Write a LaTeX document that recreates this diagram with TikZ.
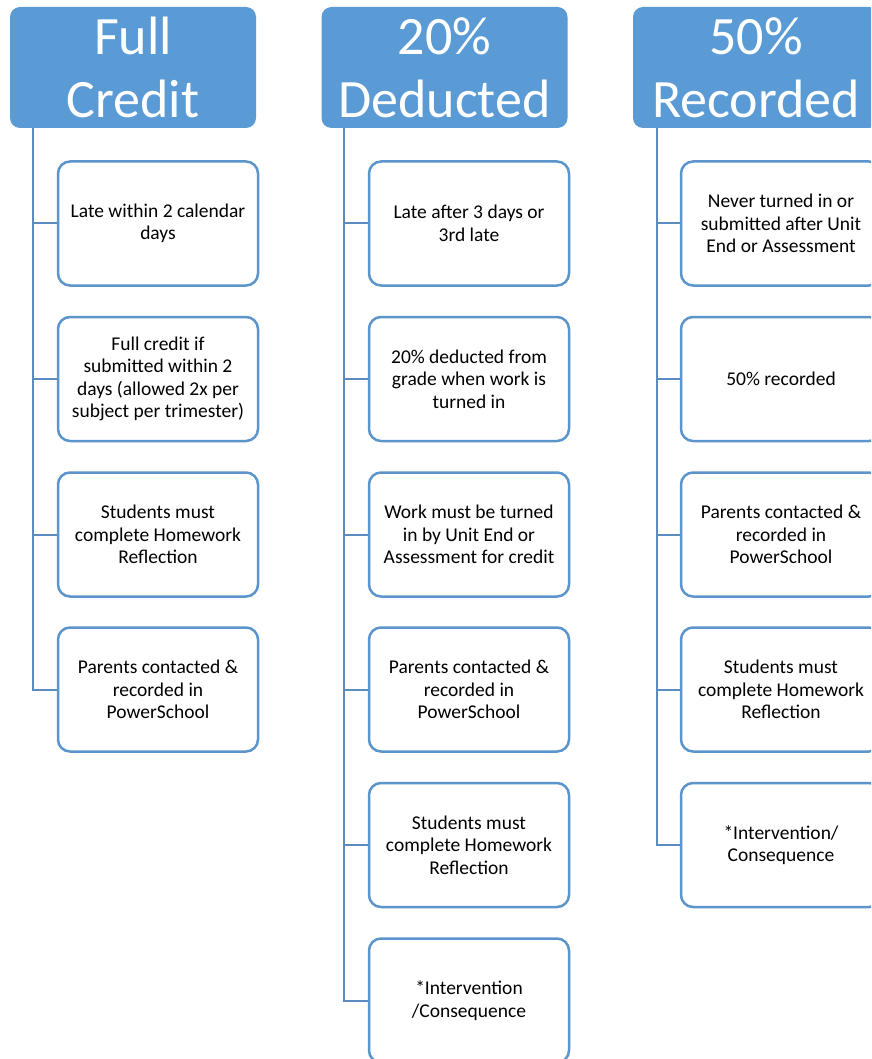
\documentclass[tikz,border=0pt]{standalone}
\usepackage{fontspec}
\setmainfont{Carlito}
\definecolor{hdrblue}{HTML}{5B9BD5}
\definecolor{boxblue}{HTML}{5B95CC}
\definecolor{linblue}{HTML}{5A8CC0}
\tikzset{
  hdr/.style={draw=none, fill=hdrblue, rounded corners=10pt, minimum width=246pt, minimum height=121pt,
    text=white, align=center, inner sep=0pt, font=\fontsize{54}{63}\selectfont},
  item/.style={draw=boxblue, line width=2.5pt, fill=white, rounded corners=12pt, minimum width=200pt,
    minimum height=124pt, align=center, inner sep=0pt, font=\fontsize{19.5}{22.5}\selectfont},
  conn/.style={draw=linblue, line width=2pt}
}
\begin{document}
\begin{tikzpicture}[x=1pt,y=-1pt]
\useasboundingbox (0,0) rectangle (871,1059);
\clip (0,0) rectangle (871,1059);
\fill[white] (0,0) rectangle (871,1059);
% headers
\node[hdr] (h1) at (133,67.5) {Full\\Credit};
\node[hdr] (h2) at (444.5,67.5) {20\%\\Deducted};
\node[hdr] (h3) at (756,67.5) {50\%\\Recorded};
\coordinate (t1) at (33,128);
\coordinate (t2) at (344,128);
\coordinate (t3) at (657,128);
% column 1
\node[item] (a1) at (158,223.5) {Late within 2 calendar\\days};
\node[item] (a2) at (158,379) {Full credit if\\submitted within 2\\days (allowed 2x per\\subject per trimester)};
\node[item] (a3) at (158,534.5) {Students must\\complete Homework\\Reflection};
\node[item] (a4) at (158,689.5) {Parents contacted \&\\recorded in\\PowerSchool};
% column 2
\node[item] (b1) at (469,223.5) {Late after 3 days or\\3rd late};
\node[item] (b2) at (469,379) {20\% deducted from\\grade when work is\\turned in};
\node[item] (b3) at (469,534.5) {Work must be turned\\in by Unit End or\\Assessment for credit};
\node[item] (b4) at (469,689.5) {Parents contacted \&\\recorded in\\PowerSchool};
\node[item] (b5) at (469,845) {Students must\\complete Homework\\Reflection};
\node[item] (b6) at (469,1000.5) {*Intervention\\/Consequence};
% column 3
\node[item] (c1) at (781,223.5) {Never turned in or\\submitted after Unit\\End or Assessment};
\node[item] (c2) at (781,379) {50\% recorded};
\node[item] (c3) at (781,534.5) {Parents contacted \&\\recorded in\\PowerSchool};
\node[item] (c4) at (781,689.5) {Students must\\complete Homework\\Reflection};
\node[item] (c5) at (781,845) {*Intervention/\\Consequence};
% connectors
\draw[conn] (t1) |- (a4.west);
\foreach \n in {a1,a2,a3} \draw[conn] (t1 |- \n.west) -- (\n.west);
\draw[conn] (t2) |- (b6.west);
\foreach \n in {b1,b2,b3,b4,b5} \draw[conn] (t2 |- \n.west) -- (\n.west);
\draw[conn] (t3) |- (c5.west);
\foreach \n in {c1,c2,c3,c4} \draw[conn] (t3 |- \n.west) -- (\n.west);
\end{tikzpicture}
\end{document}
